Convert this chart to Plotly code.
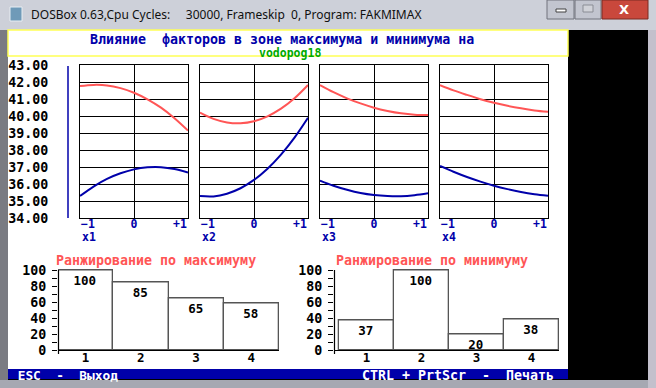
import plotly.graph_objects as go

# ---------------- data ----------------
X_LEVELS = [-1, -0.75, -0.5, -0.25, 0, 0.25, 0.5, 0.75, 1]
X_TICK_TEXT = ["−1", "0", "+1"]
FACTOR_NAMES = ["x1", "x2", "x3", "x4"]

# response in the maximum zone (red) for each factor
MAX_X1 = [41.76, 41.83, 41.80, 41.64, 41.37, 40.98, 40.49, 39.87, 39.14]
MAX_X2 = [40.20, 39.83, 39.62, 39.57, 39.69, 39.98, 40.43, 41.04, 41.82]
MAX_X3 = [41.82, 41.40, 41.04, 40.74, 40.49, 40.30, 40.16, 40.08, 40.06]
MAX_X4 = [41.82, 41.51, 41.24, 40.99, 40.78, 40.60, 40.45, 40.33, 40.25]

# response in the minimum zone (blue) for each factor
MIN_X1 = [35.29, 35.85, 36.30, 36.63, 36.86, 36.98, 36.99, 36.88, 36.67]
MIN_X2 = [35.29, 35.27, 35.43, 35.75, 36.24, 36.90, 37.73, 38.73, 39.90]
MIN_X3 = [36.20, 35.90, 35.66, 35.47, 35.35, 35.29, 35.28, 35.34, 35.45]
MIN_X4 = [37.06, 36.72, 36.41, 36.14, 35.90, 35.70, 35.53, 35.40, 35.31]

RANK_CATEGORIES = [1, 2, 3, 4]
RANK_MAX = [100, 85, 65, 58]
RANK_MIN = [37, 100, 20, 38]

TITLE_LINE1 = "Влияние  факторов в зоне максимума и минимума на"
TITLE_LINE2 = "vodopog18"
RANK_MAX_TITLE = "Ранжирование по максимуму"
RANK_MIN_TITLE = "Ранжирование по минимуму"
WINDOW_TITLE = "DOSBox 0.63,Cpu Cycles:     30000, Frameskip  0, Program: FAKMIMAX"
FOOTER_LEFT = " ESC  -  Выход"
FOOTER_RIGHT = "CTRL + PrtScr  -  Печать"

# ---------------- style ----------------
W, H = 656, 388
MONO = "DejaVu Sans Mono"
FS = 13.3
RED = "#FF5555"
BLUE = "#0000AA"
GREEN = "#00AA00"
YELLOW = "#FFFF55"


def fx(p):
    return p / W


def fy(p):
    return 1 - p / H


def mono(color, size=FS):
    return dict(family=MONO, size=size, color=color, weight="bold")


fig = go.Figure()
layout = {}

max_series = [MAX_X1, MAX_X2, MAX_X3, MAX_X4]
min_series = [MIN_X1, MIN_X2, MIN_X3, MIN_X4]
panels_x = [(80, 188), (200, 308), (320, 428), (440, 548)]
PT, PB = 65, 218

annotations = []
for i in range(4):
    s = "" if i == 0 else str(i + 1)
    for ys, col in ((max_series[i], RED), (min_series[i], BLUE)):
        fig.add_trace(go.Scatter(
            x=X_LEVELS, y=ys, mode="lines",
            line=dict(color=col, width=2, shape="spline", smoothing=1.0),
            xaxis="x" + s, yaxis="y" + s, showlegend=False, hoverinfo="skip"))
    l, r = panels_x[i]
    layout["xaxis" + s] = dict(
        domain=[fx(l), fx(r)], range=[-1, 1], anchor="y" + s, automargin=False,
        showgrid=False, zeroline=True, zerolinecolor="black", zerolinewidth=1,
        showline=True, mirror=True, linecolor="black", linewidth=1,
        tickvals=[-0.852, 0, 0.852], ticktext=X_TICK_TEXT, ticks="",
        ticklabelstandoff=-5, tickfont=mono(BLUE, 11.5), fixedrange=True)
    layout["yaxis" + s] = dict(
        domain=[fy(PB), fy(PT)], range=[34, 43], anchor="x" + s, automargin=False,
        tick0=34, dtick=1, showgrid=True, gridcolor="black", gridwidth=1,
        zeroline=False, showline=True, mirror=True, linecolor="black", linewidth=1,
        showticklabels=(i == 0), tickformat=".2f", ticks="",
        ticklabelstandoff=28, tickfont=mono("black"), fixedrange=True)
    annotations.append(dict(
        text=FACTOR_NAMES[i], xref="paper", yref="paper", x=fx(l), y=fy(236.5),
        xanchor="left", yanchor="middle", showarrow=False, font=mono(BLUE, 11.5)))

# ---------------- ranking bar charts ----------------
bar_specs = [
    (RANK_MAX, "5", (58, 279), [0.5, 4.5], RANK_MAX_TITLE, 156),
    (RANK_MIN, "6", (334, 559), [0.41, 4.5], RANK_MIN_TITLE, 432),
]
for vals, s, (l, r), xr, title, tcx in bar_specs:
    fig.add_trace(go.Bar(
        x=RANK_CATEGORIES, y=vals, width=1, text=vals, cliponaxis=False,
        textposition="inside", insidetextanchor="end", textangle=0,
        constraintext="none", textfont=mono("black", 12.5),
        marker=dict(color="white", line=dict(color="#555555", width=1.3)),
        xaxis="x" + s, yaxis="y" + s, showlegend=False, hoverinfo="skip"))
    layout["xaxis" + s] = dict(
        domain=[fx(l), fx(r)], range=xr, anchor="y" + s, automargin=False,
        showgrid=False, zeroline=False, showline=True, linecolor="black",
        linewidth=1, tickvals=RANK_CATEGORIES, ticks="",
        ticklabelstandoff=-4, tickfont=mono("black", 12.5), fixedrange=True)
    layout["yaxis" + s] = dict(
        domain=[fy(350), fy(268.4)], range=[0, 102], anchor="x" + s, automargin=False,
        tickvals=[0, 20, 40, 60, 80, 100], showgrid=False, zeroline=False,
        showline=False, ticks="outside", ticklen=5,
        tickcolor="black", tickwidth=1,
        minor=dict(tickvals=[10, 30, 50, 70, 90], ticks="outside", ticklen=5,
                   tickcolor="black"),
        ticklabelstandoff=3, tickfont=mono("black"), fixedrange=True)
    annotations.append(dict(
        text=title, xref="paper", yref="paper", x=fx(tcx), y=fy(260.5),
        xanchor="center", yanchor="middle", showarrow=False, font=mono(RED)))

# ---------------- screen texts ----------------
annotations += [
    dict(text=TITLE_LINE1, x=fx(88), y=fy(40), xanchor="left", font=mono(BLUE)),
    dict(text=TITLE_LINE2, x=fx(290), y=fy(53), xanchor="center", font=mono(GREEN, 11.5)),
    dict(text=FOOTER_LEFT, x=fx(8), y=fy(375), xanchor="left", font=mono("white", 12.8)),
    dict(text=FOOTER_RIGHT, x=fx(360), y=fy(375), xanchor="left", font=mono("white")),
    dict(text=WINDOW_TITLE, x=fx(29), y=fy(15), xanchor="left",
         font=dict(family="Noto Sans", size=12, color="#101010")),
    dict(text="X", x=fx(624), y=fy(9), xanchor="center",
         font=dict(family="DejaVu Sans", size=13, color="white", weight="bold")),
]
for a in annotations[-6:]:
    a.update(xref="paper", yref="paper", yanchor="middle", showarrow=False)


def rect(x0, y0, x1, y1, fill=None, line=None, lw=0, layer="below"):
    return dict(type="rect", xref="paper", yref="paper",
                x0=fx(x0), x1=fx(x1), y0=fy(y1), y1=fy(y0),
                fillcolor=fill if fill else "rgba(0,0,0,0)",
                line=dict(color=line if line else "rgba(0,0,0,0)", width=lw),
                layer=layer)


def vline(x, y0, y1, color, width, layer="below"):
    return dict(type="line", xref="paper", yref="paper", x0=fx(x), x1=fx(x),
                y0=fy(y1), y1=fy(y0), line=dict(color=color, width=width),
                layer=layer)


shapes = [
    # window frame pieces
    rect(0, 0, 656, 30, fill="#cdd0d9"),
    rect(0, 30, 8, 388, fill="#7a7b82"),
    rect(0, 380, 656, 388, fill="#a6a8b2"),
    rect(648, 30, 656, 388, fill="#c3c0cc"),
    # title bar icon and buttons
    rect(10, 7, 22, 21, fill="#6f9ab8", line="#e8eef3", lw=1),
    rect(547, 0, 574, 19, fill="#c2c5cf", line="#70737c", lw=1),
    rect(575, 0, 601, 19, fill="#c2c5cf", line="#70737c", lw=1),
    rect(602, 0, 648, 19, fill="#c9483c", line="#7a2a22", lw=1),
    rect(556, 9, 566, 12, fill="#ffffff", line="#404040", lw=1),
    rect(583, 5, 593, 12, fill="#d0d2d8", line="#8a8d95", lw=1),
    # DOS screen
    rect(8, 30, 648, 380, fill="#000000"),
    rect(8, 30, 568, 369, fill="#ffffff"),
    rect(8, 30, 568, 56, line=YELLOW, lw=1.5),
    rect(8, 369, 568, 379, fill=BLUE),
    # left blue scale line
    vline(68, 66, 218, BLUE, 1.5),
    # vertical axis lines of the ranking charts
    vline(58.5, 270, 354, "black", 1.2, layer="above"),
    vline(334.5, 270, 354, "black", 1.2, layer="above"),
]

fig.update_layout(
    width=W, height=H, margin=dict(l=0, r=0, t=0, b=0, pad=0), autosize=False,
    paper_bgcolor="#c5c8d2", plot_bgcolor="white",
    showlegend=False, bargap=0, shapes=shapes, annotations=annotations,
    **layout)

fig.write_html("out.html", config={"displayModeBar": False},
               post_script="document.body.style.margin='0';")
